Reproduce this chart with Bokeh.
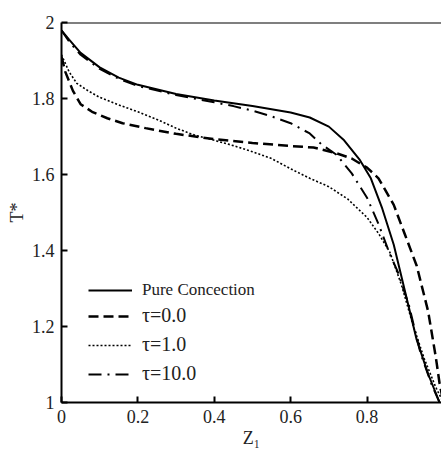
from bokeh.plotting import figure
from bokeh.models import Range1d, FixedTicker, CustomJSTickFormatter, Legend, LegendItem, Span
from bokeh.embed import file_html
from bokeh.resources import INLINE

# Pure convection (solid)
x_pure = [0, 0.02, 0.05, 0.1, 0.15, 0.2, 0.3, 0.4, 0.5, 0.6, 0.65, 0.7, 0.74, 0.78, 0.81, 0.84, 0.87, 0.9, 0.93, 0.96, 0.99]
t_pure = [1.979, 1.955, 1.92, 1.882, 1.855, 1.836, 1.812, 1.795, 1.78, 1.763, 1.75, 1.726, 1.69, 1.64, 1.59, 1.51, 1.415, 1.29, 1.165, 1.075, 1.0]

# tau = 0.0 (dashed)
x_t0 = [0, 0.01, 0.03, 0.05, 0.08, 0.12, 0.16, 0.22, 0.3, 0.4, 0.5, 0.6, 0.66, 0.72, 0.76, 0.8, 0.83, 0.87, 0.9, 0.93, 0.96, 0.98, 0.99, 1.0]
t_t0 = [1.91, 1.87, 1.82, 1.785, 1.765, 1.748, 1.735, 1.722, 1.707, 1.693, 1.683, 1.675, 1.671, 1.656, 1.642, 1.618, 1.59, 1.52, 1.44, 1.36, 1.24, 1.12, 1.05, 1.0]

# tau = 1.0 (dotted)
x_t1 = [0, 0.02, 0.04, 0.07, 0.1, 0.15, 0.2, 0.25, 0.3, 0.35, 0.4, 0.45, 0.5, 0.55, 0.6, 0.65, 0.7, 0.75, 0.8, 0.83, 0.86, 0.89, 0.92, 0.95, 0.98, 1.0]
t_t1 = [1.915, 1.87, 1.84, 1.82, 1.803, 1.783, 1.765, 1.745, 1.722, 1.703, 1.69, 1.676, 1.66, 1.642, 1.615, 1.59, 1.568, 1.535, 1.487, 1.445, 1.395, 1.31, 1.205, 1.115, 1.04, 1.0]

# tau = 10.0 (dash-dot)
x_t10 = [0, 0.02, 0.05, 0.1, 0.15, 0.2, 0.3, 0.4, 0.45, 0.5, 0.55, 0.6, 0.65, 0.68, 0.72, 0.76, 0.8, 0.83, 0.86, 0.88, 0.91, 0.94, 0.97, 0.99]
t_t10 = [1.979, 1.95, 1.915, 1.878, 1.852, 1.833, 1.809, 1.79, 1.78, 1.768, 1.753, 1.735, 1.708, 1.68, 1.652, 1.603, 1.539, 1.47, 1.39, 1.345, 1.255, 1.13, 1.045, 1.0]

series_labels = ["Pure Concection", "τ=0.0", "τ=1.0", "τ=10.0"]
x_ticks = [0, 0.2, 0.4, 0.6, 0.8, 1.0]
y_ticks = [1, 1.2, 1.4, 1.6, 1.8, 2]

FONT = "Liberation Serif"

p = figure(width=441, height=450, output_backend="svg", toolbar_location=None,
           x_range=Range1d(0, 0.995), y_range=Range1d(1, 2),
           min_border_left=61, min_border_right=0, min_border_top=22, min_border_bottom=48)
p.outline_line_color = None
p.grid.visible = False
p.background_fill_color = "white"
p.border_fill_color = "white"

fmt = CustomJSTickFormatter(code="return String(Number(tick.toFixed(1)));")
for ax, ticks in ((p.xaxis[0], x_ticks), (p.yaxis[0], y_ticks)):
    ax.ticker = FixedTicker(ticks=ticks)
    ax.formatter = fmt
    ax.minor_tick_line_color = None
    ax.major_tick_in = 6
    ax.major_tick_out = 0
    ax.major_tick_line_width = 2
    ax.axis_line_width = 2
    ax.axis_line_color = "black"
    ax.major_tick_line_color = "black"
    ax.major_label_text_font = FONT
    ax.major_label_text_font_size = "18px"
    ax.major_label_text_color = "#222222"
    ax.major_label_standoff = 7
    ax.axis_label_text_font = FONT
    ax.axis_label_text_font_size = "18px"
    ax.axis_label_text_font_style = "normal"
    ax.axis_label_text_color = "#222222"
    ax.axis_label_standoff = 2

p.yaxis[0].axis_label = "T*"
p.xaxis[0].axis_label = "Z₁"

p.add_layout(Span(location=2, dimension="width", line_color="black", line_width=2))

r0 = p.line(x_pure, t_pure, line_color="black", line_width=2)
r1 = p.line(x_t0, t_t0, line_color="black", line_width=2.5, line_dash="10 5")
r2 = p.line(x_t1, t_t1, line_color="black", line_width=1.6, line_dash="2 2")
r3 = p.line(x_t10, t_t10, line_color="black", line_width=2, line_dash="13 6 2 6")

common = dict(padding=0, margin=0, glyph_width=44, glyph_height=20, label_height=20,
              label_standoff=10, border_line_alpha=0, background_fill_alpha=0,
              label_text_font=FONT, label_text_color="#222222")

legend_a = Legend(items=[LegendItem(label=series_labels[0], renderers=[r0])],
                  location=(27, 102), label_text_font_size="17px", **common)
legend_b = Legend(items=[LegendItem(label=series_labels[i], renderers=[r]) for i, r in zip([1, 2, 3], [r1, r2, r3])],
                  location=(27, 17), spacing=6, label_text_font_size="20px",
                  label_text_font_style="normal", **common)
p.add_layout(legend_a)
p.add_layout(legend_b)

open("out.html", "w").write(file_html(p, INLINE))
